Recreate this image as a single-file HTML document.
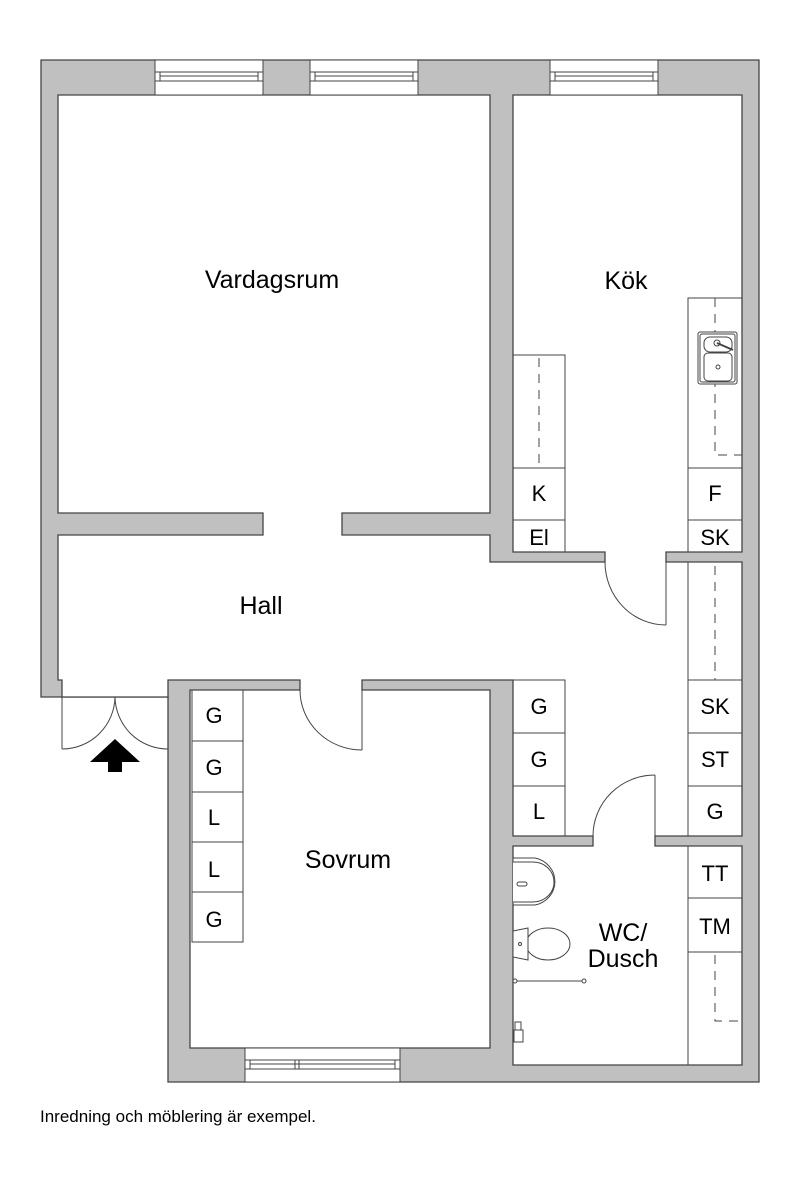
<!DOCTYPE html>
<html><head><meta charset="utf-8"><style>
html,body{margin:0;padding:0;background:#fff;}
svg{display:block;font-family:"Liberation Sans",Arial,sans-serif;}
</style></head><body>
<svg width="800" height="1185" viewBox="0 0 800 1185" xmlns="http://www.w3.org/2000/svg">
<g stroke="#444" stroke-width="1.3">
<polygon fill="#c0c0c0" points="41,60 759,60 759,1082 168,1082 168,697 41,697"/>
<polygon fill="#fff" points="58,95 490,95 490,513 342,513 342,535 490,535 490,562 605,562 605,552 513,552 513,95 742,95 742,552 666,552 666,562 742,562 742,836 655,836 655,846 742,846 742,1065 513,1065 513,846 593,846 593,836 513,836 513,680 362,680 362,690 490,690 490,1048 190,1048 190,690 300,690 300,680 168,680 168,697 62,697 62,680 58,680 58,535 263,535 263,513 58,513"/>
</g>
<g fill="#fff" stroke="#444" stroke-width="1">
<rect x="155" y="60" width="108" height="35"/><rect x="155" y="72" width="108" height="9"/><rect x="160" y="72" width="98" height="9"/><line x1="160" y1="76" x2="258" y2="76"/>
<rect x="310" y="60" width="108" height="35"/><rect x="310" y="72" width="108" height="9"/><rect x="315" y="72" width="98" height="9"/><line x1="315" y1="76" x2="413" y2="76"/>
<rect x="550" y="60" width="108" height="35"/><rect x="550" y="72" width="108" height="9"/><rect x="555" y="72" width="98" height="9"/><line x1="555" y1="76" x2="653" y2="76"/>
<rect x="245" y="1048" width="155" height="34"/><rect x="245" y="1060" width="155" height="9"/><rect x="250" y="1060" width="145" height="9"/><line x1="250" y1="1064" x2="395" y2="1064"/><line x1="295" y1="1060" x2="295" y2="1069"/><line x1="299" y1="1060" x2="299" y2="1069"/>
</g>
<g fill="none" stroke="#444" stroke-width="1">
<rect x="513" y="355" width="52" height="197"/><line x1="513" y1="468" x2="565" y2="468"/><line x1="513" y1="520" x2="565" y2="520"/>
<rect x="688" y="298" width="54" height="254"/><line x1="688" y1="468" x2="742" y2="468"/><line x1="688" y1="520" x2="742" y2="520"/>
<rect x="192" y="690" width="51" height="252"/><line x1="192" y1="741" x2="243" y2="741"/><line x1="192" y1="792" x2="243" y2="792"/><line x1="192" y1="842" x2="243" y2="842"/><line x1="192" y1="892" x2="243" y2="892"/>
<rect x="513" y="680" width="52" height="156"/><line x1="513" y1="733" x2="565" y2="733"/><line x1="513" y1="786" x2="565" y2="786"/>
<rect x="688" y="562" width="54" height="274"/><line x1="688" y1="680" x2="742" y2="680"/><line x1="688" y1="733" x2="742" y2="733"/><line x1="688" y1="786" x2="742" y2="786"/>
<rect x="688" y="846" width="54" height="219"/><line x1="688" y1="898" x2="742" y2="898"/><line x1="688" y1="952" x2="742" y2="952"/>
</g>
<g fill="none" stroke="#444" stroke-width="1" stroke-dasharray="9,7">
<line x1="539" y1="358" x2="539" y2="468"/>
<polyline points="715,298 715,455 742,455"/>
<line x1="715" y1="566" x2="715" y2="680"/>
<polyline points="715,955 715,1021 742,1021"/>
</g>
<g fill="#fff" stroke="#444" stroke-width="1">
<rect x="698" y="332" width="39" height="52" rx="2"/><rect x="700" y="334" width="35" height="48" rx="2"/>
<rect x="704" y="337" width="28" height="15" rx="6"/><rect x="704" y="353" width="28" height="28" rx="4"/>
<circle cx="717" cy="343" r="3"/><circle cx="718" cy="367" r="2"/><line x1="717" y1="343" x2="733" y2="350" stroke-width="2"/>
</g>
<g fill="none" stroke="#444" stroke-width="1">
<line x1="62" y1="697" x2="62" y2="749"/><line x1="168" y1="697" x2="168" y2="749"/>
<path d="M62,749 A53,53 0 0 0 115,697"/><path d="M168,749 A53,53 0 0 1 115,697"/>
<line x1="362" y1="690" x2="362" y2="750"/><path d="M300,690 A62,60 0 0 0 362,750"/>
<line x1="666" y1="562" x2="666" y2="625"/><path d="M605,562 A61,63 0 0 0 666,625"/>
<line x1="655" y1="836" x2="655" y2="775"/><path d="M593,836 A62,61 0 0 1 655,775"/>
</g>
<polygon fill="#000" points="90,762 115,739 140,762 122,762 122,772 108,772 108,762"/>
<g fill="#fff" stroke="#444" stroke-width="1">
<path d="M513,858 L535,858 A25,24 0 0 1 535,905 L513,905 Z"/>
<path d="M513,862 L533,862 A21,20 0 0 1 533,902 L513,902"/>
<rect x="517" y="882" width="10" height="4" rx="2"/>
<ellipse cx="548" cy="944" rx="22" ry="16"/>
<path d="M513,931 L528,928 L528,960 L513,957 Z"/>
<circle cx="520" cy="944" r="1.5"/>
<line x1="516" y1="981" x2="584" y2="981"/><circle cx="515" cy="981" r="2"/><circle cx="584" cy="981" r="2"/>
<rect x="515" y="1022" width="6" height="8"/><rect x="514" y="1030" width="9" height="12"/>
</g>
<g fill="#000" font-size="25" text-anchor="middle">
<text x="272" y="288">Vardagsrum</text>
<text x="626" y="289">Kök</text>
<text x="261" y="614">Hall</text>
<text x="348" y="868">Sovrum</text>
<text x="623" y="941">WC/</text>
<text x="623" y="967">Dusch</text>
</g>
<g fill="#000" font-size="22" text-anchor="middle">
<text x="539" y="501">K</text><text x="539" y="545">El</text>
<text x="715" y="501">F</text><text x="715" y="545">SK</text>
<text x="214" y="723">G</text><text x="214" y="775">G</text><text x="214" y="825">L</text><text x="214" y="877">L</text><text x="214" y="927">G</text>
<text x="539" y="714">G</text><text x="539" y="767">G</text><text x="539" y="819">L</text>
<text x="715" y="714">SK</text><text x="715" y="767">ST</text><text x="715" y="819">G</text>
<text x="715" y="881">TT</text><text x="715" y="934">TM</text>
</g>
<text x="40" y="1122" font-size="17" fill="#000">Inredning och möblering är exempel.</text>
</svg>
</body></html>
